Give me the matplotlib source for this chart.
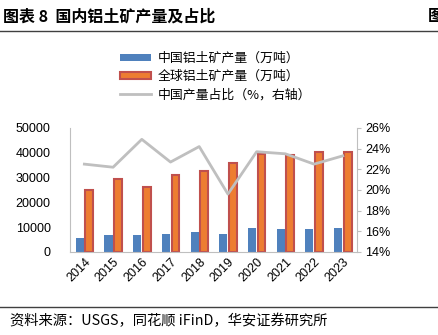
"""Domestic bauxite output vs global output, with China's share on a second axis."""

import matplotlib

matplotlib.use("Agg")

import matplotlib.pyplot as plt
import numpy as np
from matplotlib.lines import Line2D
from matplotlib.ticker import FuncFormatter

plt.rcParams["font.family"] = ["Liberation Sans", "Noto Sans CJK SC"]

years = ["2014", "2015", "2016", "2017", "2018",
         "2019", "2020", "2021", "2022", "2023"]
china_output = [5800, 6700, 6700, 7300, 8100, 7200, 9600, 9200, 9200, 9500]
world_output = [24900, 29400, 26300, 31100, 32800,
                36000, 39600, 38900, 40300, 40300]
china_share = [22.5, 22.2, 24.9, 22.7, 24.2, 19.6, 23.7, 23.5, 22.5, 23.3]

BLUE = "#4F81BD"
ORANGE = "#ED7D31"
RED_EDGE = "#C0504D"
GRAY = "#BFBFBF"
CJK = ["Noto Sans CJK SC", "DejaVu Sans"]

fig = plt.figure(figsize=(4.39, 3.35), dpi=100)
ax = fig.add_axes([0.1595, 0.248, 0.654, 0.370])

x = np.arange(len(years))
ax.bar(x - 0.16, china_output, width=0.28, color=BLUE, zorder=2)
ax.bar(x + 0.17, world_output, width=0.27, color=ORANGE,
       edgecolor=RED_EDGE, linewidth=1.5, zorder=2)

ax.set_xlim(-0.5, len(years) - 0.5)
ax.set_ylim(0, 50000)
ax.set_yticks(np.arange(0, 50001, 10000))
ax.set_xticks(x)
ax.set_xticklabels(years, rotation=45, ha="right", rotation_mode="anchor")
ax.tick_params(axis="y", length=0, labelsize=9, pad=14)
ax.tick_params(axis="x", length=0, labelsize=9, pad=3)
for side in ["top", "right"]:
    ax.spines[side].set_visible(False)
for side in ["left", "bottom"]:
    ax.spines[side].set_color(GRAY)

ax2 = ax.twinx()
ax2.plot(x, china_share, color=GRAY, linewidth=2, zorder=3)
ax2.set_ylim(14, 26)
ax2.set_yticks(np.arange(14, 27, 2))
ax2.yaxis.set_major_formatter(FuncFormatter(lambda v, _: f"{v:.0f}%"))
ax2.tick_params(axis="y", length=3, color=GRAY, labelsize=9, pad=3)
for side in ["top", "left", "bottom"]:
    ax2.spines[side].set_visible(False)
ax2.spines["right"].set_color(GRAY)

handles = [
    plt.Rectangle((0, 0), 1, 1, facecolor=BLUE),
    plt.Rectangle((0, 0), 1, 1, facecolor=ORANGE, edgecolor=RED_EDGE,
                  linewidth=1.5),
    Line2D([], [], color=GRAY, linewidth=2),
]
labels = ["中国铝土矿产量（万吨）", "全球铝土矿产量（万吨）", "中国产量占比（%，右轴）"]
fig.legend(handles, labels, loc="upper left", bbox_to_anchor=(0.248, 0.88),
           frameon=False, prop={"family": CJK, "size": 9.3},
           handlelength=2.4, handleheight=0.45, labelspacing=0.4,
           handletextpad=0.45)

# header and footer of the report page
fig.text(0.007, 0.952, "图表 8  国内铝土矿产量及占比", family=CJK,
         fontsize=11.5, fontweight="bold", va="center")
fig.text(0.975, 0.952, "图", family=CJK, fontsize=11.5,
         fontweight="bold", va="center")
fig.add_artist(Line2D([0, 1], [0.908, 0.908], color="#404040", linewidth=1))
fig.add_artist(Line2D([0, 1], [0.084, 0.084], color="#404040", linewidth=1))
fig.text(0.022, 0.043, "资料来源：USGS，同花顺 iFinD，华安证券研究所",
         family=CJK, fontsize=10.3, va="center")

fig.savefig("out.png", dpi=100)
